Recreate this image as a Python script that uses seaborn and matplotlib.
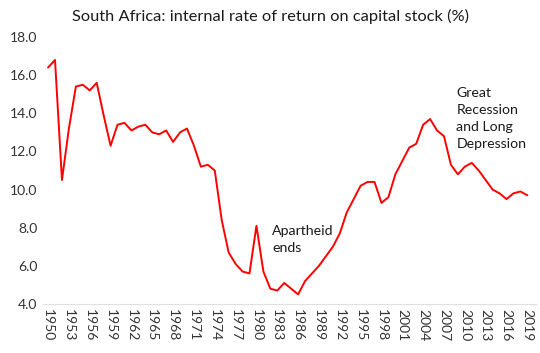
import matplotlib
matplotlib.use("Agg")
import matplotlib.pyplot as plt
import seaborn as sns
import pandas as pd

years = list(range(1950, 2020))
rate = [16.4, 16.8, 10.5, 13.2, 15.4, 15.5, 15.2, 15.6, 13.9, 12.3,
        13.4, 13.5, 13.1, 13.3, 13.4, 13.0, 12.9, 13.1, 12.5, 13.0,
        13.2, 12.3, 11.2, 11.3, 11.0, 8.4, 6.7, 6.1, 5.7, 5.6,
        8.1, 5.7, 4.8, 4.7, 5.1, 4.8, 4.5, 5.2, 5.6, 6.0,
        6.5, 7.0, 7.7, 8.8, 9.5, 10.2, 10.4, 10.4, 9.3, 9.6,
        10.8, 11.5, 12.2, 12.4, 13.4, 13.7, 13.1, 12.8, 11.3, 10.8,
        11.2, 11.4, 11.0, 10.5, 10.0, 9.8, 9.5, 9.8, 9.9, 9.7]
tick_years = list(range(1950, 2020, 3))
title = "South Africa: internal rate of return on capital stock (%)"
notes = ["Apartheid\nends", "Great\nRecession\nand Long\nDepression"]

df = pd.DataFrame({"year": years, "rate": rate})

sns.set_theme(style="white")
plt.rcParams['font.family'] = ['Lato', 'DejaVu Sans']

fig = plt.figure(figsize=(5.4, 3.53), dpi=100)
ax = fig.add_axes([0.08, 0.139, 0.912, 0.756])
sns.lineplot(data=df, x="year", y="rate", ax=ax, color="#ff0000", linewidth=1.4)

ax.set_xlim(1949.3, 2020.2)
ax.set_ylim(4, 18)
ax.set_yticks([4, 6, 8, 10, 12, 14, 16, 18])
ax.set_yticklabels([f"{v:.1f}" for v in [4, 6, 8, 10, 12, 14, 16, 18]], fontsize=10, color="#333333")
ax.set_xticks(tick_years)
ax.set_xticklabels([str(y) for y in tick_years], rotation=-90, fontsize=10, color="#333333")
ax.tick_params(axis='both', length=0, pad=4)
ax.set_xlabel("")
ax.set_ylabel("")
for s in ["top", "right", "left"]:
    ax.spines[s].set_visible(False)
ax.spines["bottom"].set_color("#e0e0e0")
ax.spines["bottom"].set_linewidth(0.8)

fig.text(0.5, 0.952, title, ha="center", va="center", fontsize=11.8, color="#1a1a1a")
ax.text(1982.3, 8.15, notes[0], ha="left", va="top", fontsize=10.2, color="#1a1a1a", linespacing=1.5)
ax.text(2008.8, 15.4, notes[1], ha="left", va="top", fontsize=10.2, color="#1a1a1a", linespacing=1.5)

fig.savefig("out.png", dpi=100)
